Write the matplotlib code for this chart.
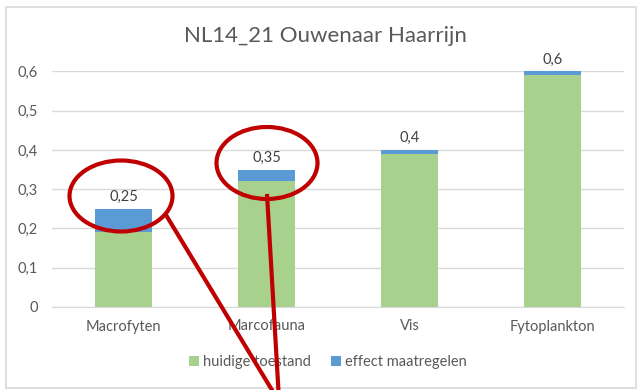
import matplotlib
matplotlib.use("Agg")
import matplotlib.pyplot as plt
from matplotlib.patches import Ellipse, Rectangle

categories = ["Macrofyten", "Marcofauna", "Vis", "Fytoplankton"]
huidige_toestand = [0.19, 0.32, 0.39, 0.59]
effect_maatregelen = [0.06, 0.03, 0.01, 0.01]
totals = [0.25, 0.35, 0.4, 0.6]
yticks = [0, 0.1, 0.2, 0.3, 0.4, 0.5, 0.6]

GREEN = "#A9D18E"
BLUE = "#5B9BD5"
GRID = "#D9D9D9"
TEXT = "#595959"
RED = "#C00000"

plt.rcParams["font.family"] = ["Lato", "DejaVu Sans"]

W, H = 637, 390
fig = plt.figure(figsize=(W / 100, H / 100), dpi=100)

# plot area in pixel terms
left, right, bottom, top = 52, 624, 307, 71.4
ax = fig.add_axes([left / W, 1 - bottom / H, (right - left) / W, (bottom - top) / H])

x = list(range(len(categories)))
ax.bar(x, huidige_toestand, width=0.4, color=GREEN, zorder=3, label="huidige toestand")
ax.bar(x, effect_maatregelen, width=0.4, bottom=huidige_toestand, color=BLUE,
       zorder=3, label="effect maatregelen")

for xi, t in zip(x, totals):
    ax.annotate(f"{t:g}".replace(".", ","), (xi, t), xytext=(0, 3.5),
                textcoords="offset points", ha="center", va="bottom",
                fontsize=10.5, color="#404040")

ax.set_xlim(-0.5, 3.5)
ax.set_ylim(0, 0.6)
ax.set_yticks(yticks)
ax.set_yticklabels([f"{v:g}".replace(".", ",") for v in yticks])
ax.set_xticks(x)
ax.set_xticklabels(categories)
ax.tick_params(axis="both", length=0, labelsize=10.5, colors=TEXT)
ax.tick_params(axis="x", pad=9)
ax.tick_params(axis="y", pad=10)
ax.grid(axis="y", color=GRID, linewidth=1, zorder=0)
for s in ["top", "right", "left"]:
    ax.spines[s].set_visible(False)
ax.spines["bottom"].set_color(GRID)
ax.spines["bottom"].set_zorder(4)

fig.text(325 / W, 1 - 36 / H, "NL14_21 Ouwenaar Haarrijn", ha="center", va="center",
         fontsize=16, color=TEXT)

handles, labels = ax.get_legend_handles_labels()
fig.legend(handles, labels, loc="center", bbox_to_anchor=(328 / W, 1 - 362 / H),
           ncol=2, frameon=False, fontsize=10.5, labelcolor=TEXT,
           handlelength=0.65, handleheight=0.65, handletextpad=0.3, columnspacing=1.4)

# overlay in pixel coordinates for the frame and the red markings
ov = fig.add_axes([0, 0, 1, 1], zorder=10)
ov.set_xlim(0, W)
ov.set_ylim(H, 0)
ov.axis("off")
ov.patch.set_alpha(0)
ov.add_patch(Rectangle((6, 7), W - 7, 381, fill=False, edgecolor=GRID, linewidth=1.2))
ov.add_patch(Ellipse((121, 196), 103, 71, fill=False, edgecolor=RED, linewidth=3))
ov.add_patch(Ellipse((267, 163), 101, 72, fill=False, edgecolor=RED, linewidth=3))
ov.plot([166, 278], [215, 400], color=RED, linewidth=3, solid_capstyle="butt")
ov.plot([267, 279], [194, 400], color=RED, linewidth=3, solid_capstyle="butt")

fig.savefig("out.png", dpi=100)
